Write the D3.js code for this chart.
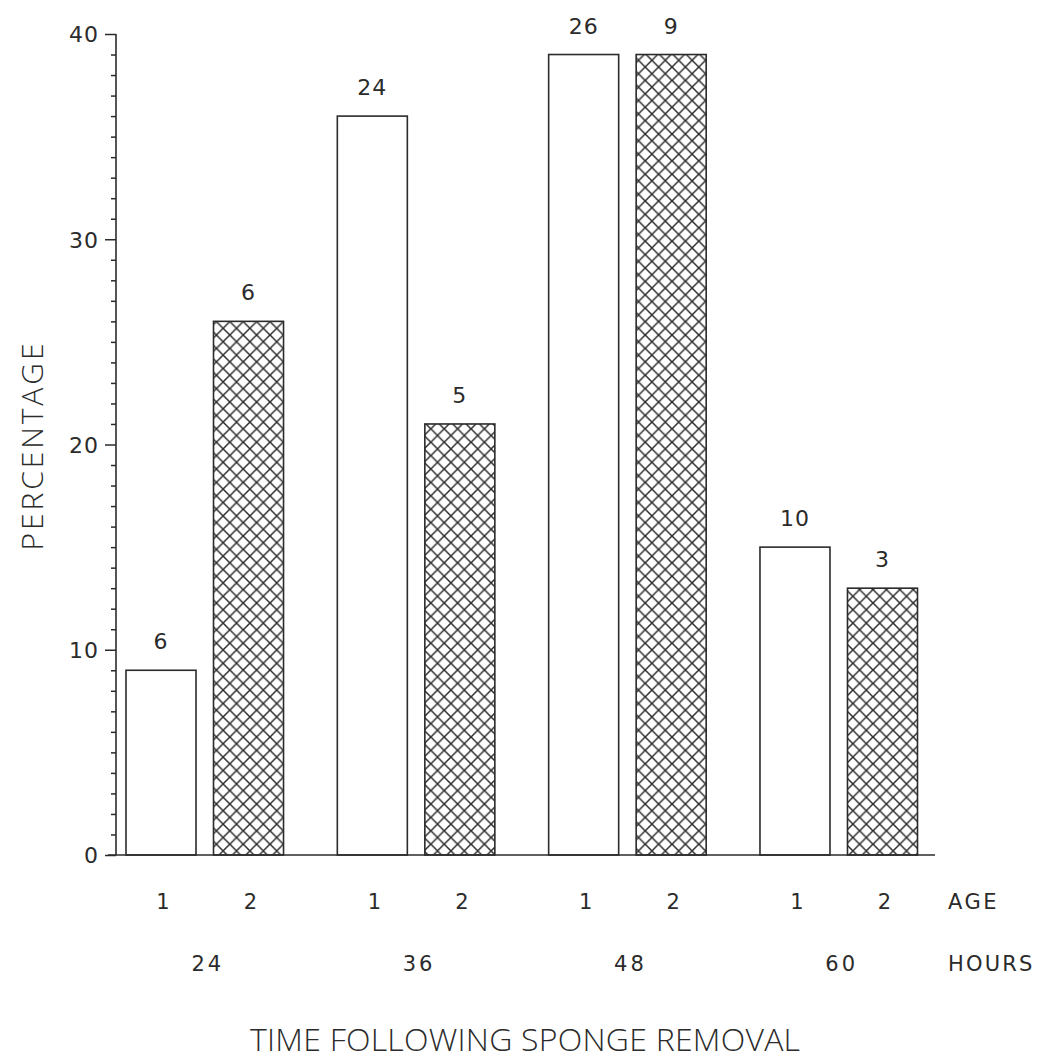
<!DOCTYPE html>
<html>
<head>
<meta charset="utf-8">
<script src="https://cdn.jsdelivr.net/npm/d3@7"></script>
<style>
  html, body { margin: 0; padding: 0; background: #fff; }
  svg { display: block; }
</style>
</head>
<body>
<svg id="chart" width="1039" height="1059"></svg>
<script>
// ---- data ----
const hours = ["24", "36", "48", "60"];
const ages = ["1", "2"];
const pctAge1 = [9, 36, 39, 15];
const pctAge2 = [26, 21, 39, 13];
const nAge1 = [6, 24, 26, 10];
const nAge2 = [6, 5, 9, 3];
const yTicks = [0, 10, 20, 30, 40];

const ink = "#2b2b2b";
const svg = d3.select("#chart");

// hatch pattern
const defs = svg.append("defs");
const P = 13.4;
const pat = defs.append("pattern")
  .attr("id", "xhatch")
  .attr("patternUnits", "userSpaceOnUse")
  .attr("x", 2).attr("y", 0)
  .attr("width", P).attr("height", P);
pat.append("rect").attr("width", P).attr("height", P).attr("fill", "#fff");
pat.append("path")
  .attr("d", `M-1,-1 L${P + 1},${P + 1} M-1,${P + 1} L${P + 1},-1`)
  .attr("stroke", ink).attr("stroke-width", 1.5).attr("fill", "none");

// scales
const y = d3.scaleLinear().domain([0, 40]).range([855, 34]);
const x0 = d3.scaleBand().domain(hours).range([126, 917.5]).paddingInner(0.2546).paddingOuter(0);
const x1 = d3.scaleBand().domain(ages).range([0, x0.bandwidth()]).paddingInner(0.2).paddingOuter(0);

const axisX = 116;

// data rows
const rows = [];
hours.forEach((h, i) => {
  rows.push({ h, age: "1", v: pctAge1[i], n: nAge1[i] });
  rows.push({ h, age: "2", v: pctAge2[i], n: nAge2[i] });
});

// bars
svg.append("g").selectAll("rect").data(rows).join("rect")
  .attr("x", d => x0(d.h) + x1(d.age))
  .attr("y", d => y(d.v))
  .attr("width", x1.bandwidth())
  .attr("height", d => y(0) - y(d.v))
  .attr("fill", d => d.age === "1" ? "#fff" : "url(#xhatch)")
  .attr("stroke", ink).attr("stroke-width", 1.6);

// bar count labels
svg.append("g").selectAll("text").data(rows).join("text")
  .attr("x", d => x0(d.h) + x1(d.age) + x1.bandwidth() / 2)
  .attr("y", d => y(d.v) - 21)
  .attr("text-anchor", "middle")
  .attr("font-family", "DejaVu Sans")
  .attr("font-size", 22)
  .attr("letter-spacing", 1)
  .attr("fill", ink)
  .text(d => d.n);

// y axis
const yAxis = d3.axisLeft(y)
  .tickValues(d3.range(0, 41, 1))
  .tickSize(5)
  .tickFormat("");
const gy = svg.append("g").attr("transform", `translate(${axisX},0)`).call(yAxis);
gy.select(".domain").attr("d", `M0,${y(40)}V${y(0)}`).attr("stroke", ink).attr("stroke-width", 1.6);
gy.selectAll(".tick line").attr("stroke", ink).attr("stroke-width", 1.5)
  .attr("x2", d => (d % 10 === 0 ? -11 : -5));
gy.selectAll(".tick").filter(d => yTicks.indexOf(d) >= 0).append("text")
  .attr("x", -17).attr("dy", "0.36em")
  .attr("text-anchor", "end")
  .attr("font-family", "DejaVu Sans")
  .attr("font-size", 22)
  .attr("letter-spacing", 1)
  .attr("fill", ink)
  .text(d => d);

// baseline
svg.append("line")
  .attr("x1", 108).attr("x2", 935)
  .attr("y1", y(0)).attr("y2", y(0))
  .attr("stroke", ink).attr("stroke-width", 1.6);

// age labels
svg.append("g").selectAll("text").data(rows).join("text")
  .attr("x", d => x0(d.h) + x1(d.age) + x1.bandwidth() / 2 + 2)
  .attr("y", 909)
  .attr("text-anchor", "middle")
  .attr("font-family", "DejaVu Sans")
  .attr("font-size", 21)
  .attr("fill", ink)
  .text(d => d.age);
svg.append("text")
  .attr("x", 948).attr("y", 909)
  .attr("font-family", "DejaVu Sans").attr("font-size", 21)
  .attr("letter-spacing", 2.5)
  .attr("fill", ink).text("AGE");

// hours labels
svg.append("g").selectAll("text").data(hours).join("text")
  .attr("x", d => x0(d) + x0.bandwidth() / 2 + 3)
  .attr("y", 971)
  .attr("text-anchor", "middle")
  .attr("font-family", "DejaVu Sans")
  .attr("font-size", 21)
  .attr("letter-spacing", 3)
  .attr("fill", ink)
  .text(d => d);
svg.append("text")
  .attr("x", 948).attr("y", 971)
  .attr("font-family", "DejaVu Sans").attr("font-size", 21)
  .attr("letter-spacing", 2.2)
  .attr("fill", ink).text("HOURS");

// axis titles
svg.append("text")
  .attr("transform", "translate(43,447) rotate(-90)")
  .attr("text-anchor", "middle")
  .attr("font-family", "Open Sans").attr("font-weight", 300)
  .attr("font-size", 30)
  .attr("textLength", 207).attr("lengthAdjust", "spacing")
  .attr("fill", ink)
  .text("PERCENTAGE");

svg.append("text")
  .attr("x", 525).attr("y", 1051)
  .attr("text-anchor", "middle")
  .attr("font-family", "Open Sans").attr("font-weight", 300)
  .attr("font-size", 32)
  .attr("textLength", 550).attr("lengthAdjust", "spacing")
  .attr("fill", ink)
  .text("TIME FOLLOWING SPONGE REMOVAL");
</script>
</body>
</html>
